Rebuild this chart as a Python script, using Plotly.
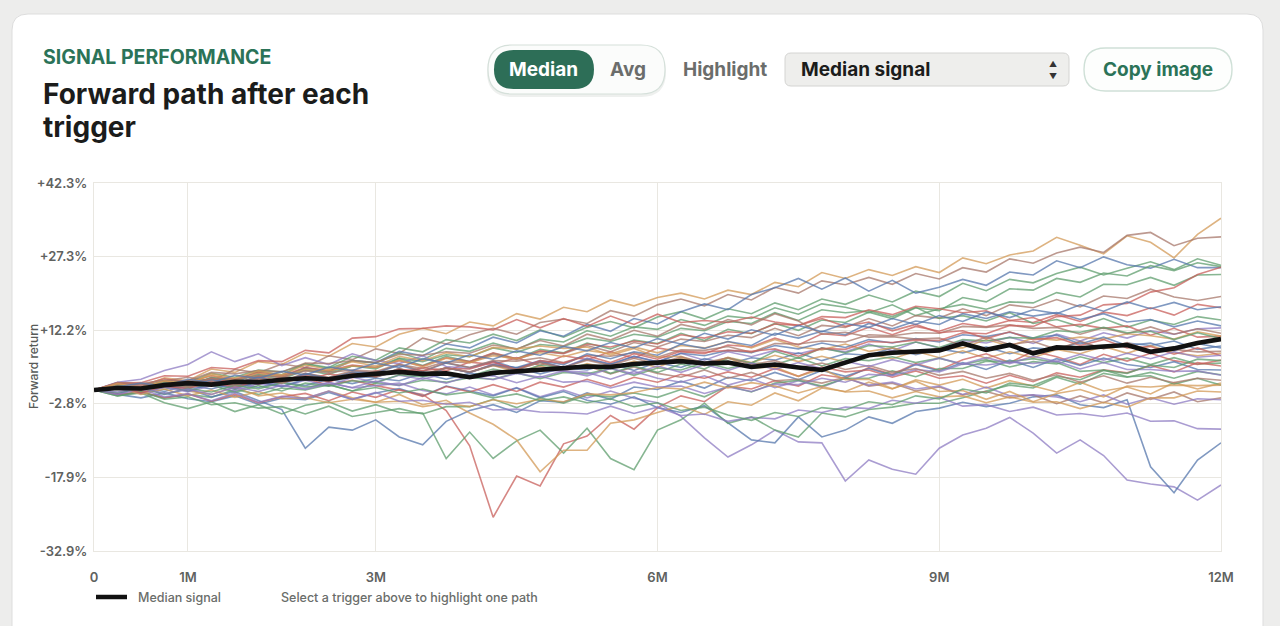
import plotly.graph_objects as go

# ---------------- data ----------------
MONTHS = [0, 0.25, 0.5, 0.75, 1, 1.25, 1.5, 1.75, 2, 2.25, 2.5, 2.75, 3, 3.25, 3.5, 3.75,
          4, 4.25, 4.5, 4.75, 5, 5.25, 5.5, 5.75, 6, 6.25, 6.5, 6.75, 7, 7.25, 7.5, 7.75,
          8, 8.25, 8.5, 8.75, 9, 9.25, 9.5, 9.75, 10, 10.25, 10.5, 10.75, 11, 11.25, 11.5, 11.75, 12]

MEDIAN = [0, 0.4, 0.3, 1.0, 1.4, 1.1, 1.7, 1.6, 2.1, 2.4, 2.2, 2.9, 3.3, 3.7, 3.3, 3.4, 2.6,
          3.5, 3.8, 4.2, 4.4, 4.8, 4.7, 5.3, 5.6, 5.9, 5.4, 5.6, 4.7, 5.2, 4.6, 4.1, 5.6,
          7.1, 7.6, 7.9, 8.1, 9.5, 8.2, 9.2, 7.5, 8.7, 8.5, 8.9, 9.2, 7.8, 8.5, 9.6, 10.4]

P01 = [0, 1.4, 0.6, 2.5, 1.9, 4.3, 3.6, 5.8, 5.2, 7.6, 6.9, 9.5, 8.8, 11.4, 12.6, 11.5, 13.9,
       13.1, 15.6, 14.5, 16.9, 16.0, 18.4, 17.2, 18.9, 19.8, 18.6, 20.4, 19.5, 22.0, 21.1, 24.0, 22.8,
       24.6, 23.4, 25.2, 24.0, 27.0, 25.8, 27.6, 28.4, 31.2, 29.6, 27.8, 31.5, 30.2, 27.0, 31.8, 35.1]
P02 = [0, 1.1, 0.3, 1.9, 2.6, 1.8, 4.2, 3.5, 5.3, 4.6, 7.0, 6.2, 8.4, 7.5, 10.6, 9.4, 11.3,
       12.6, 11.4, 13.8, 14.5, 13.6, 16.2, 15.1, 17.4, 18.6, 17.2, 19.5, 18.4, 21.0, 19.8, 22.3, 21.5,
       23.0, 21.6, 23.8, 22.7, 25.0, 24.1, 26.8, 25.9, 28.0, 29.2, 28.1, 31.6, 32.2, 29.5, 31.0, 31.3]
P03 = [0, 0.9, -0.3, 1.5, 0.8, 2.6, 1.9, 3.8, 3.1, 5.4, 4.6, 6.9, 6.1, 8.6, 7.8, 10.3, 9.6,
       11.4, 10.1, 12.3, 10.8, 12.8, 14.0, 12.7, 14.9, 16.0, 14.5, 16.6, 15.6, 17.8, 16.4, 18.6, 17.5,
       19.4, 18.0, 20.2, 19.1, 21.8, 20.3, 22.6, 21.9, 23.8, 25.1, 23.5, 24.9, 26.2, 24.6, 26.8, 25.5]
P04 = [0, 0.8, -0.6, 1.2, 0.3, 2.4, 1.6, 3.3, 2.5, 4.6, 3.8, 6.0, 5.6, 7.9, 7.0, 9.4, 8.6,
       10.8, 9.6, 12.1, 11.0, 13.4, 12.0, 14.6, 13.5, 16.0, 17.6, 16.4, 19.5, 20.9, 22.8, 20.6, 22.9,
       20.2, 22.4, 19.8, 21.0, 22.6, 21.4, 24.1, 23.5, 26.4, 25.0, 27.2, 25.6, 24.9, 26.7, 25.0, 25.0]
P05 = [0, 0.6, 1.3, 0.1, 1.4, 2.3, 1.2, 2.9, 2.2, 4.1, 3.2, 4.9, 4.3, 6.4, 5.0, 6.9, 5.8,
       7.5, 6.4, 8.3, 7.6, 9.6, 8.4, 10.2, 9.5, 11.6, 10.1, 12.4, 11.5, 13.6, 12.2, 14.3, 13.8,
       15.9, 14.6, 16.8, 16.2, 18.9, 18.0, 20.7, 20.4, 22.8, 22.0, 23.9, 23.3, 25.4, 24.4, 26.0, 25.2]
P06 = [0, 1.2, 0.5, 2.0, 1.6, 3.4, 2.6, 4.1, 3.7, 5.3, 4.4, 6.0, 5.5, 7.6, 6.2, 8.5, 7.9,
       9.6, 8.3, 10.4, 9.8, 12.1, 11.0, 12.9, 12.4, 14.4, 13.2, 15.1, 14.6, 16.8, 15.5, 17.6, 16.9,
       15.8, 17.4, 15.2, 16.6, 17.5, 16.5, 18.0, 17.8, 19.9, 19.0, 21.6, 21.5, 23.0, 21.4, 23.5, 23.6]
P07 = [0, 0.7, -0.2, 1.0, 0.4, 1.9, 0.6, 2.2, 1.8, 3.4, 2.6, 3.9, 3.5, 5.2, 4.4, 5.8, 5.6,
       7.3, 6.2, 7.9, 7.4, 9.1, 7.8, 9.7, 8.8, 10.4, 9.9, 11.2, 10.7, 12.6, 11.1, 13.2, 12.8,
       14.6, 13.1, 15.2, 14.7, 16.6, 15.2, 17.4, 16.8, 18.5, 17.0, 19.2, 18.7, 20.6, 19.0, 18.3, 19.1]
P08 = [0, 0.9, -0.2, 1.4, 0.8, 1.6, 2.3, 1.1, 2.8, 2.0, 3.3, 2.5, 3.9, 3.4, 4.6, 3.9, 5.7,
       5.2, 6.6, 5.0, 7.0, 6.2, 7.8, 6.5, 8.6, 7.8, 7.4, 9.2, 8.8, 10.6, 9.2, 11.5, 11.1,
       12.8, 11.3, 13.0, 12.0, 13.6, 12.9, 14.2, 13.8, 15.4, 14.0, 15.9, 15.2, 16.8, 15.3, 17.5, 16.8]
P09 = [0, 1.1, 0.1, 1.4, 0.9, 2.5, 2.0, 3.1, 2.8, 4.4, 3.7, 4.9, 4.6, 6.5, 5.8, 7.2, 6.8,
       8.6, 7.7, 9.3, 8.9, 10.6, 9.9, 11.4, 10.8, 12.6, 12.1, 14.0, 13.6, 15.8, 14.2, 16.4, 15.8,
       16.2, 15.0, 16.9, 14.6, 15.2, 14.1, 15.8, 13.6, 14.4, 12.9, 14.6, 12.8, 14.3, 13.4, 15.0, 14.3]
P10 = [0, 0.7, 0.1, 1.0, 0.4, 1.9, 0.8, 2.4, 1.7, 3.2, 1.9, 3.6, 2.7, 4.4, 3.0, 4.6, 3.6,
       5.3, 4.5, 5.8, 4.6, 6.5, 5.2, 6.9, 5.8, 7.5, 6.1, 7.8, 6.8, 8.1, 7.4, 8.5, 7.8,
       9.4, 8.0, 9.8, 8.6, 10.1, 9.6, 10.8, 9.5, 11.4, 10.0, 11.7, 10.6, 12.1, 11.4, 12.5, 12.7]
P11 = [0, 1.5, 1.0, 2.3, 1.6, 2.9, 2.2, 3.6, 2.9, 4.6, 4.0, 5.1, 4.6, 6.0, 4.9, 6.6, 5.8,
       7.6, 6.4, 8.0, 7.5, 9.4, 8.8, 10.0, 9.4, 11.3, 10.6, 11.9, 11.6, 13.5, 13.2, 15.0, 14.8,
       16.4, 15.4, 17.1, 16.6, 15.8, 16.2, 14.2, 14.8, 12.9, 13.4, 12.6, 13.1, 11.2, 12.6, 10.8, 11.0]
P12 = [0, -0.8, 0.6, -0.3, 1.0, 0.2, 1.5, 0.5, 1.6, 0.9, 2.2, 1.3, 2.4, 1.9, 3.4, 2.2, 3.4,
       3.0, 4.6, 3.3, 4.5, 4.1, 5.4, 4.0, 5.6, 4.6, 6.4, 5.3, 6.6, 6.1, 7.6, 6.0, 7.4,
       7.1, 8.6, 7.2, 8.4, 7.6, 8.8, 7.4, 8.6, 8.2, 9.8, 8.5, 9.6, 9.1, 10.0, 8.3, 9.0]
P13 = [0, 0.9, 0.2, 1.4, 0.6, 2.1, 1.0, 2.6, 1.7, 3.2, 2.4, 3.6, 2.6, 4.3, 2.9, 4.6, 3.6,
       5.0, 3.7, 4.9, 3.8, 5.4, 4.4, 5.9, 4.6, 6.6, 5.0, 6.7, 5.6, 7.1, 5.8, 6.9, 5.7,
       7.3, 6.4, 7.9, 6.6, 8.0, 6.5, 7.8, 6.6, 8.3, 7.4, 8.9, 7.5, 9.1, 7.6, 7.0, 7.5]
P14 = [0, -1.0, -0.4, -1.6, -0.9, -1.5, 0.1, -0.9, 0.4, 0.0, 1.1, -0.2, 1.4, 1.0, 2.0, 1.6, 2.5,
       2.2, 3.5, 2.3, 3.6, 3.3, 4.4, 3.0, 4.5, 4.1, 5.6, 4.4, 5.5, 5.2, 6.6, 4.9, 6.4,
       6.0, 6.8, 5.6, 6.5, 5.2, 6.2, 4.7, 5.8, 5.3, 6.8, 5.6, 6.5, 5.2, 6.6, 5.3, 5.5]
P15 = [0, 0.9, 0.4, 1.6, 1.1, 2.4, 1.3, 2.8, 1.7, 2.3, 1.0, 2.0, 0.9, 0.0, -0.9, -4.2, -11.4,
       -26.0, -17.6, -19.6, -11.0, -9.4, -5.2, -8.0, -3.6, -1.2, -2.4, 0.8, 0.2, 1.9, 0.8, 3.1, 2.4,
       4.6, 3.2, 5.4, 4.1, 6.2, 7.4, 5.6, 7.9, 6.8, 5.2, 7.3, 5.9, 7.5, 6.0, 5.2, 6.1]
P16 = [0, 0.6, -0.5, 0.5, 0.2, 1.4, 0.4, 1.8, 0.9, 0.3, 1.6, 0.4, 0.9, 1.4, -0.1, -0.8, 0.6,
       -1.0, 0.5, -1.4, 0.0, -1.6, -0.2, -1.7, -2.6, -5.4, -9.8, -13.7, -11.2, -8.2, -10.6, -10.8, -18.6,
       -14.3, -16.2, -17.2, -11.9, -9.2, -7.8, -5.6, -8.8, -12.9, -10.2, -13.4, -18.4, -19.2, -19.8, -22.5, -19.4]
P17 = [0, -0.9, -1.6, -0.6, -1.8, -2.4, -1.2, -2.9, -1.7, -2.0, -0.5, -1.9, -0.6, 0.3, -1.2, 0.8, -0.2,
       -1.2, 0.4, -1.6, -0.3, -2.1, -2.9, -1.4, -3.6, -4.6, -3.2, -6.7, -10.2, -10.8, -5.5, -9.6, -8.2,
       -5.5, -6.8, -4.4, -3.7, -2.5, -3.4, -2.7, -1.4, -1.0, -3.0, -3.6, -2.0, -15.7, -21.0, -14.3, -10.8]
P18 = [0, -0.8, 0.5, -0.9, 0.2, -1.4, -0.3, -2.2, -4.0, -11.9, -7.6, -8.2, -6.1, -9.6, -11.2, -6.4, -4.2,
       -3.0, -4.6, -2.2, -2.5, -0.6, -1.9, 0.6, 0.1, 1.8, 0.4, 2.6, 1.9, 3.6, 2.1, 4.0, 2.8,
       4.4, 3.0, 5.2, 3.9, 5.6, 4.2, 6.1, 4.6, 6.4, 5.0, 6.5, 5.2, 4.6, 5.8, 4.2, 4.1]
P19 = [0, -1.2, -0.6, -2.6, -3.8, -2.4, -4.4, -3.0, -4.9, -3.1, -2.4, -4.3, -3.0, -4.6, -4.7, -14.0, -8.6,
       -14.0, -10.4, -8.2, -12.9, -7.8, -14.0, -16.3, -8.2, -6.1, -2.7, -6.8, -5.5, -8.2, -9.6, -4.7, -5.5,
       -4.0, -3.5, -2.7, -2.7, -1.6, -0.2, 1.0, 0.4, 2.6, 1.2, 3.4, 2.6, 3.6, 2.4, 3.8, 3.1]
P20 = [0, 0.8, -0.5, 0.9, -0.2, -0.9, 0.6, -1.2, -0.6, -1.8, -0.2, -1.6, -2.5, -0.9, -3.0, -2.1, -4.7,
       -7.0, -10.2, -16.7, -12.3, -12.3, -6.8, -6.1, -4.6, -3.2, -5.0, -2.4, -3.1, -0.6, -2.2, 0.4, -0.3,
       1.6, 0.2, 2.1, 1.0, 2.2, 0.4, 1.9, 0.8, -0.4, 1.6, -0.2, 0.6, -0.8, 1.5, 0.2, 1.4]
P21 = [0, 1.0, 0.3, 1.6, 0.9, 2.3, 1.2, 2.7, 1.6, 3.4, 2.4, 3.3, 2.8, 4.4, 3.0, 4.6, 3.6,
       5.2, 4.2, 5.6, 4.2, 4.9, 3.3, 4.7, 3.4, 2.6, 4.1, 2.4, 3.6, 1.9, 2.2, 1.4, 2.6,
       0.8, 1.4, -0.2, 0.6, -1.0, -0.3, -1.6, -1.0, -2.8, -1.2, -2.6, -0.6, -1.9, -0.4, -2.4, -1.6]
P22 = [0, 1.6, 2.2, 4.0, 5.2, 7.8, 5.8, 7.4, 5.0, 6.6, 5.2, 7.4, 6.0, 5.4, 7.0, 4.8, 4.4,
       5.8, 3.8, 4.0, 3.9, 3.6, 2.2, 3.8, 2.4, 1.6, 2.9, 1.0, 2.3, 0.5, 1.9, 0.6, 2.4,
       1.0, 1.6, 0.2, 0.8, -0.9, 0.6, -1.2, -1.0, -1.4, -2.4, -1.0, -2.9, -1.6, -2.9, -1.8, -2.0]
P23 = [0, 1.2, 0.6, 1.7, 1.4, 3.0, 1.9, 3.4, 2.7, 4.2, 3.9, 4.9, 4.6, 6.1, 4.7, 6.5, 5.6,
       7.0, 6.4, 7.6, 6.8, 8.1, 7.4, 8.8, 7.6, 9.1, 8.6, 9.9, 8.6, 10.3, 8.8, 8.2, 9.4,
       7.9, 8.6, 7.4, 8.6, 8.6, 10.3, 9.0, 10.6, 10.2, 10.8, 10.4, 11.5, 11.1, 10.4, 11.9, 11.0]
P24 = [0, 1.0, 0.3, 1.3, 0.7, 2.1, 1.2, 2.6, 1.5, 3.3, 2.4, 3.6, 3.6, 5.0, 3.8, 5.5, 4.6,
       5.9, 4.4, 5.8, 4.6, 6.3, 5.3, 6.9, 5.7, 7.5, 7.0, 8.1, 7.6, 9.1, 8.4, 9.6, 8.7,
       10.3, 9.6, 10.5, 9.8, 11.3, 10.9, 11.8, 10.6, 11.2, 9.4, 10.8, 9.1, 9.6, 8.0, 9.5, 8.6]
P25 = [0, -0.9, -0.4, -1.6, -0.8, -2.3, -0.9, -2.6, -1.4, -0.7, -2.2, -0.4, -1.5, 0.1, -1.3, 0.7, -0.4,
       1.1, -0.3, 1.6, 0.6, 2.2, 0.8, 2.6, 1.6, 3.2, 2.4, 3.7, 2.6, 4.4, 2.8, 4.7, 3.7,
       4.1, 2.6, 3.9, 2.4, 2.9, 1.4, 3.0, 1.7, 3.5, 2.6, 4.1, 3.5, 5.0, 3.7, 5.6, 4.9]
P26 = [0, -1.2, -0.3, -1.9, -1.4, -3.0, -2.6, -3.7, -3.4, -4.9, -3.3, -5.4, -4.6, -3.8, -4.9, -3.4, -3.4,
       -1.9, -3.6, -1.6, -2.7, -1.0, -1.4, -0.6, -1.5, 0.1, -1.4, 0.8, -0.4, 1.4, 2.0, 0.8, 2.4,
       2.4, 3.9, 2.7, 4.4, 4.4, 5.9, 5.8, 6.4, 5.6, 3.8, 4.1, 2.7, 2.9, 1.2, 2.4, 1.0]
P27 = [0, 0.5, -0.8, 0.6, -0.4, 0.9, -0.2, 1.3, 0.7, 2.0, 0.8, 2.6, 1.6, 3.0, 2.2, 3.4, 2.7,
       2.9, 1.5, 2.8, 1.6, 1.8, 0.4, 1.6, 0.6, 0.8, -0.7, 0.6, -0.3, 1.2, 1.1, 2.4, 1.6,
       3.2, 2.9, 4.2, 3.7, 5.3, 5.1, 5.7, 5.4, 5.9, 4.3, 5.6, 4.2, 4.2, 3.8, 3.9, 3.0]
P28 = [0, 1.1, 0.8, 1.6, 0.8, 2.4, 2.2, 2.9, 2.6, 3.9, 3.6, 4.1, 3.8, 5.3, 3.9, 5.6, 4.6,
       6.0, 5.9, 6.6, 5.6, 7.1, 6.9, 7.6, 6.7, 8.2, 8.1, 8.9, 7.7, 9.5, 9.4, 10.0, 9.8,
       11.3, 11.1, 11.7, 11.6, 13.0, 12.8, 13.3, 12.6, 12.8, 11.4, 12.7, 11.5, 12.9, 11.4, 12.5, 11.6]
P29 = [0, 0.6, -0.9, 0.2, -1.2, 0.0, -1.5, -0.3, -1.8, -1.6, -2.6, -1.9, -2.5, -2.3, -3.4, -2.7, -3.4,
       -2.0, -2.8, -1.9, -2.4, -0.8, -1.0, -0.5, 0.5, 0.2, 1.6, 0.4, 1.5, 0.8, -0.6, 0.7, -0.4,
       -0.2, -1.6, -0.3, -1.4, -1.2, -2.6, -1.4, -2.5, -2.4, -3.8, -2.5, -3.5, -1.6, -1.6, -0.2, -0.4]
P30 = [0, 0.5, 0.1, 0.9, -0.2, 1.3, 0.2, 1.7, 0.7, 2.2, 2.0, 2.6, 2.6, 4.0, 2.8, 4.5, 3.6,
       5.1, 4.6, 6.0, 5.2, 7.4, 6.4, 7.8, 7.1, 9.4, 8.5, 9.9, 9.1, 11.6, 10.6, 12.0, 11.3,
       13.6, 12.5, 14.1, 13.4, 15.6, 14.6, 16.0, 15.1, 15.8, 14.4, 15.6, 13.9, 14.4, 12.9, 14.1, 13.1]
P31 = [0, 1.4, 1.5, 2.9, 2.8, 4.6, 4.3, 6.0, 5.8, 8.1, 7.6, 10.6, 10.9, 12.5, 12.6, 13.1, 12.9,
       12.3, 14.4, 12.7, 14.6, 13.0, 15.1, 13.4, 15.5, 13.8, 14.2, 13.8, 14.9, 13.9, 13.2, 14.6, 13.0,
       13.9, 12.1, 13.4, 11.7, 12.1, 10.5, 11.9, 10.3, 10.7, 9.1, 10.3, 8.6, 8.9, 7.3, 8.6, 7.0]
P32 = [0, 0.9, 0.4, 1.5, 0.6, 1.1, -0.5, 0.9, -0.2, 1.4, 0.8, 1.9, 1.5, 3.1, 2.7, 3.5, 2.8,
       4.3, 3.4, 5.1, 4.5, 5.2, 3.4, 4.9, 3.6, 5.3, 4.3, 6.5, 5.5, 7.9, 6.5, 8.6, 7.6,
       9.1, 8.8, 9.8, 8.7, 10.3, 10.0, 10.7, 10.6, 12.1, 11.8, 12.8, 11.7, 12.0, 10.3, 11.7, 10.5]
P33 = [0, -0.9, 0.2, -1.4, -0.8, -2.2, -0.6, -2.5, -1.3, -1.7, -0.2, -1.9, -0.5, -2.3, -2.1, -2.9, -2.5,
       -4.1, -3.9, -4.5, -4.6, -4.9, -3.3, -4.8, -3.5, -5.2, -4.9, -6.4, -5.6, -5.9, -4.1, -4.6, -3.5,
       -3.8, -2.1, -2.7, -1.5, -3.3, -3.0, -4.4, -3.5, -5.1, -4.8, -5.4, -4.7, -6.4, -6.3, -7.9, -8.0]
P34 = [0, 1.5, 1.3, 2.0, 1.9, 3.6, 3.3, 4.0, 3.7, 5.5, 5.4, 6.0, 5.6, 7.3, 7.1, 7.8, 7.5,
       9.2, 8.4, 10.1, 9.0, 11.4, 10.2, 12.2, 11.0, 13.4, 12.4, 14.4, 13.3, 15.6, 14.1, 11.4, 11.8,
       10.8, 10.9, 10.4, 10.6, 9.1, 10.8, 9.3, 9.9, 8.3, 10.0, 8.4, 9.7, 8.0, 8.3, 7.8, 7.9]
P35 = [0, 1.3, 0.4, 1.9, 1.2, 3.3, 2.4, 3.9, 3.1, 5.1, 4.2, 5.8, 4.9, 6.9, 6.0, 7.6, 6.8,
       8.7, 8.4, 9.0, 8.5, 8.8, 7.1, 8.5, 6.7, 6.9, 5.1, 6.6, 4.5, 4.7, 2.8, 4.3, 2.1,
       2.2, 0.3, 1.8, -0.3, -0.1, -1.9, -0.3, -2.4, -0.7, 0.1, -1.4, 0.8, 0.6, 1.0, 0.9, 1.0]
P36 = [0, 0.7, -0.6, 0.8, 0.3, 1.7, 0.5, 2.0, 1.5, 3.0, 1.6, 3.3, 2.7, 4.2, 4.0, 4.4, 4.3,
       5.7, 4.2, 6.0, 5.5, 7.0, 5.6, 7.4, 6.3, 7.9, 7.7, 8.1, 7.9, 8.4, 6.9, 8.5, 8.3,
       9.9, 9.7, 10.2, 10.1, 11.7, 11.5, 13.2, 13.0, 15.0, 15.3, 17.4, 17.7, 20.0, 20.9, 23.6, 25.1]
P37 = [0, 0.6, 1.4, 0.8, 2.2, 1.5, 3.0, 2.4, 3.8, 3.1, 4.7, 4.0, 5.5, 4.6, 6.4, 5.5, 7.2,
       6.3, 8.0, 7.1, 8.9, 8.0, 9.7, 8.6, 10.5, 9.4, 11.6, 10.4, 12.3, 11.2, 13.2, 11.9, 13.6,
       12.8, 14.6, 13.4, 15.2, 14.0, 15.9, 14.8, 16.4, 15.6, 17.4, 16.1, 18.0, 16.6, 17.9, 16.4, 17.0]
P38 = [0, -0.5, 0.4, -0.8, 0.3, -0.4, 1.0, 0.2, 1.5, 0.6, 1.1, -0.2, 0.5, -0.6, 0.2, -1.0, -0.4,
       -1.6, -0.8, -2.2, -1.4, -2.6, -1.8, -3.4, -2.6, -4.2, -3.5, -5.1, -6.2, -4.6, -5.4, -3.6, -4.1,
       -2.4, -3.0, -1.2, -1.8, 0.2, -0.6, 1.4, 0.9, 2.8, 2.1, 4.0, 3.4, 5.1, 4.6, 6.3, 6.0]
P39 = [0, 0.8, 0.1, 1.3, 0.6, 1.7, 1.0, 2.3, 1.4, 2.8, 2.1, 3.4, 2.7, 3.9, 3.2, 4.5, 3.7,
       5.0, 4.2, 5.6, 4.6, 6.1, 5.0, 6.5, 5.3, 6.8, 5.6, 6.6, 5.2, 6.0, 4.6, 5.5, 4.2,
       5.0, 3.6, 4.4, 3.0, 3.8, 2.4, 3.4, 2.0, 3.1, 1.6, 2.9, 1.4, 2.6, 1.5, 2.4, 2.0]
P40 = [0, -0.4, 0.5, -0.7, 0.2, -0.9, 0.6, -0.3, 1.0, 0.1, 1.4, 0.5, 1.8, 0.9, 2.5, 1.4, 2.9,
       2.1, 3.4, 2.6, 3.9, 2.9, 4.4, 3.3, 4.9, 3.6, 5.2, 4.0, 5.5, 4.2, 5.6, 4.4, 5.9,
       4.8, 6.2, 5.1, 6.5, 5.3, 6.6, 5.4, 6.9, 5.8, 7.3, 6.1, 7.5, 6.4, 7.8, 6.7, 7.1]

PATHS = [P01, P02, P03, P04, P05, P06, P07, P08, P09, P10, P11, P12, P13, P14, P15, P16, P17, P18,
         P19, P20, P21, P22, P23, P24, P25, P26, P27, P28, P29, P30, P31, P32, P33, P34, P35, P36,
         P37, P38, P39, P40]
PATH_COLOR_IDX = [1, 5, 2, 0, 2, 2, 5, 3, 2, 4, 3, 0, 1, 2, 3, 4, 0, 0,
                  2, 1, 5, 4, 1, 0, 3, 2, 4, 5, 1, 0, 3, 2, 4, 5, 1, 3,
                  0, 2, 5, 4]

Y_TICKS = [-32.9, -17.9, -2.8, 12.2, 27.3, 42.3]
Y_TICK_TEXT = ["-32.9%", "-17.9%", "-2.8%", "+12.2%", "+27.3%", "+42.3%"]
X_TICKS = [0, 1, 3, 6, 9, 12]
X_TICK_TEXT = ["0", "1M", "3M", "6M", "9M", "12M"]

# ---------------- style ----------------
PALETTE = ["#5677ad", "#d39a57", "#5f9e6e", "#c9605c", "#8e7cc3", "#a8786b"]
W, H = 1280, 626
L, R, T, B = 94, 1221, 183, 551
FONT = "Inter, Roboto, 'Open Sans', sans-serif"
GREEN = "#2b7358"
GRAY = "#5f625f"
GRID = "#e9e7e1"


def px(x):
    return (x - L) / (R - L)


def py(y):
    return (B - y) / (B - T)


def rrect(x0, y0, x1, y1, r):
    rx, ry = r / (R - L), r / (B - T)
    a0, a1 = px(x0), px(x1)
    b0, b1 = py(y0), py(y1)
    return (f"M {a0+rx},{b0} L {a1-rx},{b0} Q {a1},{b0} {a1},{b0-ry} "
            f"L {a1},{b1+ry} Q {a1},{b1} {a1-rx},{b1} L {a0+rx},{b1} "
            f"Q {a0},{b1} {a0},{b1+ry} L {a0},{b0-ry} Q {a0},{b0} {a0+rx},{b0} Z")


fig = go.Figure()

for vals, ci in zip(PATHS, PATH_COLOR_IDX):
    fig.add_trace(go.Scatter(x=MONTHS[:len(vals)], y=vals, mode="lines",
                             line=dict(color=PALETTE[ci], width=1.6),
                             opacity=0.75, hoverinfo="skip", showlegend=False))

fig.add_trace(go.Scatter(x=MONTHS, y=MEDIAN, mode="lines",
                         line=dict(color="#111111", width=4.6),
                         hoverinfo="skip", showlegend=False))

shapes = []
shapes.append(dict(type="path", path=rrect(12, 14, 1263, 700, 16), xref="paper", yref="paper",
                   fillcolor="white", line=dict(color="#dddddd", width=1), layer="below"))
shapes.append(dict(type="path", path=rrect(487, 47, 666, 97, 25), xref="paper", yref="paper",
                   fillcolor="#eef0ee", line=dict(width=0), layer="below"))
shapes.append(dict(type="path", path=rrect(488, 45, 665, 94, 24), xref="paper", yref="paper",
                   fillcolor="#fbfcfb", line=dict(color="#d5e0da", width=1.2), layer="below"))
shapes.append(dict(type="path", path=rrect(494, 50, 594, 89, 19.5), xref="paper", yref="paper",
                   fillcolor="#2d6e57", line=dict(width=0), layer="below"))
shapes.append(dict(type="path", path=rrect(785, 53, 1069, 86, 6), xref="paper", yref="paper",
                   fillcolor="#eeeeec", line=dict(color="#d4d4d2", width=1), layer="below"))
shapes.append(dict(type="path", path=rrect(1084, 48, 1232, 91, 21.5), xref="paper", yref="paper",
                   fillcolor="#fdfefd", line=dict(color="#cfe0d7", width=1.4), layer="below"))
shapes.append(dict(type="line", x0=px(96), x1=px(127), y0=py(597), y1=py(597), xref="paper", yref="paper",
                   line=dict(color="#111111", width=4.5)))

ann = []


def text(x, y, s, size, color, weight=400, xanchor="left", angle=0):
    ann.append(dict(x=px(x), y=py(y), xref="paper", yref="paper", text=s, showarrow=False,
                    xanchor=xanchor, yanchor="middle", textangle=angle,
                    font=dict(family=FONT, size=size, color=color, weight=weight)))


text(41, 57, "SIGNAL PERFORMANCE", 19.5, GREEN, 700)
text(41, 94, "Forward path after each", 28, "#1b1c1b", 700)
text(41, 127, "trigger", 28, "#1b1c1b", 700)
text(543, 70, "Median", 19, "white", 700, xanchor="center")
text(628, 70, "Avg", 19, "#6b6d6b", 700, xanchor="center")
text(725, 70, "Highlight", 19, "#6b6d6b", 700, xanchor="center")
text(799, 70, "Median signal", 19, "#1b1c1b", 700)
text(1053, 64, "▲", 8, "#333333", 400, xanchor="center")
text(1053, 76, "▼", 8, "#333333", 400, xanchor="center")
text(1158, 70, "Copy image", 19, GREEN, 700, xanchor="center")
text(33, 367, "Forward return", 12, "#585b58", 500, xanchor="center", angle=-90)
text(136, 597, "Median signal", 12.5, "#6a6d6a", 500)
text(279, 597, "Select a trigger above to highlight one path", 12.5, "#6a6d6a", 500)

fig.update_layout(
    width=W, height=H,
    margin=dict(l=L, r=W - R, t=T, b=H - B, pad=0),
    paper_bgcolor="#ededec", plot_bgcolor="white",
    shapes=shapes, annotations=ann, showlegend=False,
    font=dict(family=FONT),
    xaxis=dict(range=[0, 12], tickvals=X_TICKS, ticktext=X_TICK_TEXT, showgrid=True,
               gridcolor=GRID, gridwidth=1, zeroline=False, showline=True, mirror=True,
               linecolor=GRID, ticks="outside", ticklen=14, tickcolor="rgba(0,0,0,0)",
               tickfont=dict(family=FONT, size=13, color=GRAY, weight=600)),
    yaxis=dict(range=[-32.9, 42.3], tickvals=Y_TICKS, ticktext=Y_TICK_TEXT, showgrid=True,
               gridcolor=GRID, gridwidth=1, zeroline=False, showline=True, mirror=True,
               linecolor=GRID, ticks="outside", ticklen=3, tickcolor="rgba(0,0,0,0)",
               tickfont=dict(family=FONT, size=13, color=GRAY, weight=600)),
)

fig.write_html("out.html")
